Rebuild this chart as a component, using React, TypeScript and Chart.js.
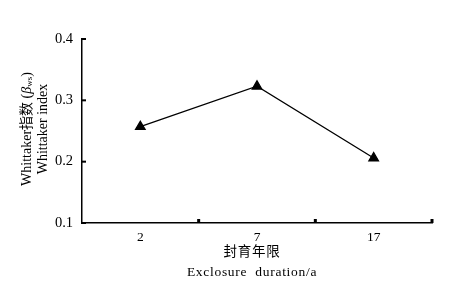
import React, { useEffect, useRef } from "react";
import { Chart, registerables } from "chart.js";

Chart.register(...registerables);

const categories = ["2", "7", "17"];
const whittakerValues = [0.257, 0.323, 0.206];
const yTickValues = [0.1, 0.2, 0.3, 0.4];

const SERIF = "'Liberation Serif', 'Times New Roman', 'Noto Sans CJK SC', serif";

const tickPlugin = {
  id: "customDecor",
  afterDraw(chart: any) {
    const ctx = chart.ctx;
    const y = chart.scales.y;
    const area = chart.chartArea;
    ctx.save();
    ctx.fillStyle = "#000";
    yTickValues.forEach((v) => {
      const py = y.getPixelForValue(v);
      ctx.fillRect(area.left, py - 1, 4, 2);
    });
    const n = categories.length;
    for (let i = 1; i <= n; i++) {
      const px = area.left + ((area.right - area.left) * i) / n;
      ctx.fillRect(px - 1.5, area.bottom - 4, 3, 4);
    }
    const cy = (area.top + area.bottom) / 2 - 2;
    const drawLine = (parts: { t: string; font: string; dy: number }[], lx: number) => {
      ctx.save();
      ctx.translate(lx, cy);
      ctx.rotate(-Math.PI / 2);
      let total = 0;
      parts.forEach((p) => {
        ctx.font = p.font;
        total += ctx.measureText(p.t).width;
      });
      let cx = -total / 2;
      ctx.textBaseline = "middle";
      ctx.textAlign = "left";
      parts.forEach((p) => {
        ctx.font = p.font;
        ctx.fillText(p.t, cx, p.dy);
        cx += ctx.measureText(p.t).width;
      });
      ctx.restore();
    };
    drawLine(
      [
        { t: "Whittaker指数 (", font: `14px ${SERIF}`, dy: 0 },
        { t: "β", font: `italic 14px ${SERIF}`, dy: 0 },
        { t: "ws", font: `9px ${SERIF}`, dy: 3 },
        { t: ")", font: `14px ${SERIF}`, dy: 0 },
      ],
      27
    );
    drawLine([{ t: "Whittaker index", font: `14px ${SERIF}`, dy: 0 }], 43);
    const cx = 252;
    ctx.textAlign = "center";
    ctx.textBaseline = "middle";
    ctx.font = `13.5px ${SERIF}`;
    (ctx as any).letterSpacing = "0.7px";
    ctx.fillText("封育年限", cx, 252);
    ctx.fillText("Exclosure  duration/a", cx, 272);
    (ctx as any).letterSpacing = "0px";
    ctx.restore();
  },
};

export default function App() {
  const ref = useRef<HTMLCanvasElement | null>(null);
  useEffect(() => {
    document.body.style.margin = "0";
    const chart = new Chart(ref.current!, {
      type: "line",
      data: {
        labels: categories,
        datasets: [
          {
            data: whittakerValues,
            borderColor: "#000",
            backgroundColor: "#000",
            borderWidth: 1.3,
            pointStyle: "triangle",
            pointRadius: 5.5,
            pointHoverRadius: 5.5,
            tension: 0,
          },
        ],
      },
      options: {
        animation: false,
        responsive: false,
        maintainAspectRatio: false,
        layout: { padding: { top: 39, right: 27, left: 0, bottom: 0 } },
        plugins: { legend: { display: false }, tooltip: { enabled: false } },
        scales: {
          x: {
            type: "category",
            offset: true,
            grid: { display: false, drawTicks: false },
            border: { display: true, color: "#000", width: 1.5 },
            ticks: { color: "#000", font: { family: SERIF, size: 13.5 }, padding: 6 },
            afterFit: (s: any) => {
              s.height = 72;
            },
          },
          y: {
            min: 0.1,
            max: 0.4,
            grid: { display: false, drawTicks: false },
            border: { display: true, color: "#000", width: 1.5 },
            ticks: {
              stepSize: 0.1,
              color: "#000",
              font: { family: SERIF, size: 14.5 },
              padding: 9,
              callback: (v: any) => Number(v).toFixed(1),
            },
            afterFit: (s: any) => {
              s.width = 82;
            },
          },
        },
      },
      plugins: [tickPlugin],
    });
    return () => chart.destroy();
  }, []);
  return (
    <div style={{ position: "fixed", left: 0, top: 0, width: 459, height: 295, background: "#fff" }}>
      <canvas ref={ref} width={459} height={295} />
    </div>
  );
}
